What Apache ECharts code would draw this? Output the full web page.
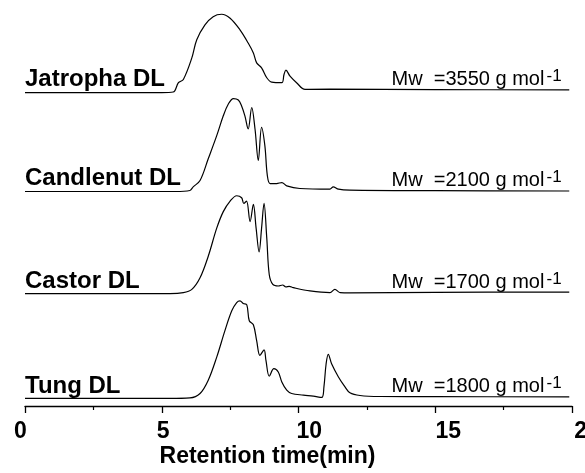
<!DOCTYPE html>
<html>
<head>
<meta charset="utf-8">
<script src="https://cdn.jsdelivr.net/npm/echarts@6.0.0/dist/echarts.min.js"></script>
<style>
  html, body { margin: 0; padding: 0; background: #fff; overflow: hidden; }
  #chart { width: 585px; height: 473px; }
</style>
</head>
<body>
<div id="chart"></div>
<script>
// 数据：保留时间 (min) 与信号强度
const jatrophaTime = [0, 5.0, 5.42, 5.61, 5.79, 6.10, 6.28, 6.58, 6.88, 7.19, 7.50, 7.86, 8.16, 8.35, 8.47, 8.65, 8.84, 9.02, 9.39, 9.47, 9.54, 9.69, 9.93, 10.24, 11.15, 15, 19.9];
const jatrophaSignal = [0, 0, 0.6, 10, 13.3, 35, 53.3, 68.3, 76.6, 79, 75, 63.3, 50, 40, 30, 25, 15, 10.6, 10, 18.3, 22.6, 16.6, 10, 3.3, 3.5, 3, 2.7];

const candlenutTime = [0, 5.5, 6.03, 6.15, 6.40, 6.70, 7.01, 7.25, 7.43, 7.62, 7.80, 7.92, 8.04, 8.16, 8.29, 8.41, 8.53, 8.65, 8.77, 8.86, 8.96, 9.20, 9.39, 9.57, 10.05, 11.15, 11.27, 11.46, 11.88, 15, 19.9];
const candlenutSignal = [0, 0, 1, 4.7, 11, 33, 56.3, 76.3, 88, 93.7, 92.3, 86.3, 76.3, 63, 84.7, 63, 31.3, 64.7, 46.3, 16.3, 8, 8, 9, 5.7, 3, 2.3, 4.7, 2.3, 1.3, 0.8, 0.5];

const castorTime = [0, 5.3, 5.79, 6.10, 6.40, 6.70, 7.01, 7.25, 7.50, 7.74, 7.92, 8.00, 8.10, 8.23, 8.35, 8.45, 8.56, 8.65, 8.74, 8.84, 8.93, 9.06, 9.26, 9.42, 9.54, 9.66, 9.81, 10.42, 11.15, 11.33, 11.52, 11.88, 15, 19.9];
const castorSignal = [0, 0, 1, 4.3, 16, 37.7, 66, 82.7, 93.3, 98.7, 96.7, 91, 93.3, 72.7, 90, 66, 42, 66, 91, 56, 19.3, 9.3, 7.7, 8.7, 6.7, 7.3, 6, 2.7, 1, 4.3, 1, 0.8, 1.3, 1.6];

const tungTime = [0, 5.3, 6.03, 6.40, 6.70, 7.01, 7.31, 7.56, 7.74, 7.86, 7.98, 8.11, 8.20, 8.35, 8.47, 8.59, 8.74, 8.81, 8.93, 9.10, 9.26, 9.39, 9.57, 9.75, 10.18, 10.54, 10.85, 10.93, 11.01, 11.09, 11.21, 11.46, 11.70, 11.88, 12.25, 12.98, 15, 19.9];
const tungSignal = [0, 0, 0.5, 5, 18.4, 41.7, 68.4, 88.4, 96.7, 98.4, 95.7, 94.4, 78.4, 74.4, 58.4, 43.4, 49, 38.4, 22.4, 30, 26.7, 16.7, 8.4, 5, 3.4, 2.4, 1, 11.7, 35, 44.4, 35, 21.7, 11.7, 5.7, 3, 2, 1.8, 1.7];

const sampleNames = ['Jatropha DL', 'Candlenut DL', 'Castor DL', 'Tung DL'];
const mwValues = [3550, 2100, 1700, 1800];
const verticalOffsets = [316, 216.3, 113.3, 7.6];
const xTicks = [0, 5, 10, 15, 20];

const traces = [
    [jatrophaTime, jatrophaSignal],
    [candlenutTime, candlenutSignal],
    [castorTime, castorSignal],
    [tungTime, tungSignal]
];

const chart = echarts.init(document.getElementById('chart'));

const FONT = '"Liberation Sans", Arial, Helvetica, sans-serif';
// 原图刻度文字相对刻度线略有偏移
const labelShift = [-4.5, 1.5, 10.7, 13, 15];

const series = traces.map((tr, k) => ({
    name: sampleNames[k],
    type: 'line',
    data: tr[0].map((t, i) => [t, tr[1][i] + verticalOffsets[k]]),
    smooth: 0.35,
    symbol: 'none',
    silent: true,
    lineStyle: { color: '#000', width: 1.2 }
}));

// 左侧名称与右侧 Mw 标注
const graphics = [];
const nameBaseline = [87.5, 187, 290, 395];
const mwBaseline = [86.5, 187.5, 289.5, 393.5];
sampleNames.forEach((n, k) => {
    graphics.push({
        type: 'text',
        x: 25,
        y: nameBaseline[k] - 0.35 * 24,
        style: {
            text: n,
            font: 'bold 24px ' + FONT,
            fill: '#000',
            align: 'left',
            verticalAlign: 'middle'
        }
    });
    graphics.push({
        type: 'text',
        x: 391.5,
        y: mwBaseline[k] - 0.35 * 20,
        style: {
            text: 'Mw  =' + mwValues[k] + ' g mol',
            font: '20px ' + FONT,
            fill: '#000',
            align: 'left',
            verticalAlign: 'middle'
        }
    });
    graphics.push({
        type: 'text',
        x: 546.5,
        y: mwBaseline[k] - 4 - 0.35 * 17,
        style: {
            text: '-1',
            font: '17px ' + FONT,
            fill: '#000',
            align: 'left',
            verticalAlign: 'middle'
        }
    });
});

const option = {
    animation: false,
    backgroundColor: '#fff',
    grid: {
        left: 25,
        right: 13,
        top: 9.3,
        bottom: 63.7,
        containLabel: false
    },
    xAxis: {
        type: 'value',
        min: 0,
        max: 20,
        interval: 5,
        name: 'Retention time(min)',
        nameLocation: 'middle',
        nameGap: 39,
        nameTextStyle: {
            fontFamily: FONT,
            fontSize: 23,
            fontWeight: 'bold',
            color: '#000',
            padding: [0, 62, 0, 0]
        },
        axisLine: { show: true, lineStyle: { color: '#000', width: 1.3 } },
        axisTick: { show: true, inside: false, length: 7, lineStyle: { color: '#000', width: 1.3 } },
        minorTick: { show: true, splitNumber: 2, length: 4, lineStyle: { color: '#000', width: 1.2 } },
        splitLine: { show: false },
        axisLabel: { show: false }
    },
    yAxis: {
        type: 'value',
        min: 0,
        max: 400,
        show: false
    },
    series: series,
    graphic: graphics
};

chart.setOption(option);

// 刻度文字：按坐标轴换算位置
const tickLabels = xTicks.map((v, i) => ({
    type: 'text',
    x: chart.convertToPixel({ xAxisIndex: 0 }, v) + labelShift[i],
    y: 440 - 0.35 * 23,
    style: {
        text: String(v),
        font: 'bold 23px ' + FONT,
        fill: '#000',
        align: 'center',
        verticalAlign: 'middle'
    }
}));
chart.setOption({ graphic: graphics.concat(tickLabels) });
</script>
</body>
</html>
